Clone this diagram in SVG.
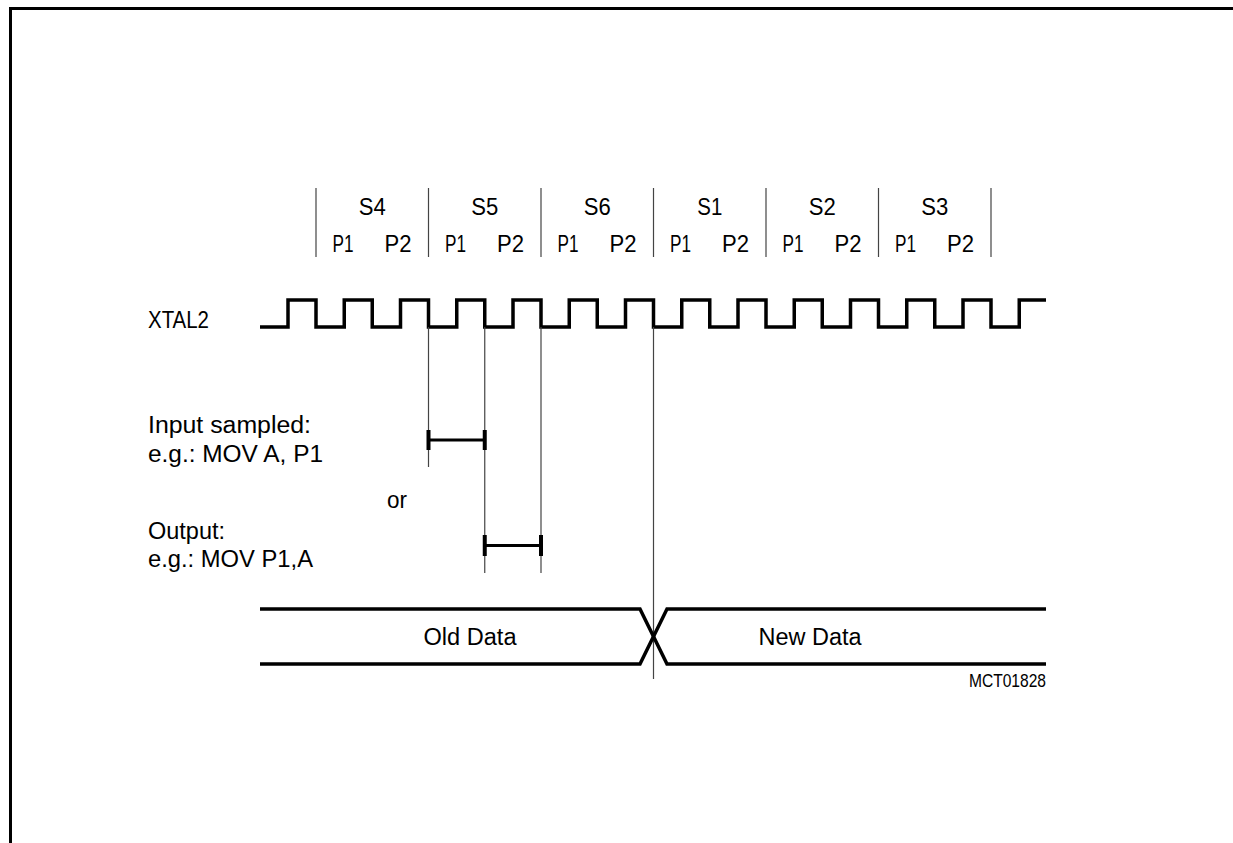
<svg xmlns="http://www.w3.org/2000/svg" width="1233" height="843" viewBox="0 0 1233 843">
<style>
text{font-family:"Liberation Sans",Arial,sans-serif;fill:#000;font-size:23.5px}
.small{font-size:18.5px}
.thin{stroke:#444;stroke-width:1.2;fill:none}
.thick{stroke:#000;stroke-width:3.5;fill:none;stroke-linejoin:miter}
.bar{stroke:#000;stroke-width:3;fill:none}
.tick{stroke:#000;stroke-width:4;fill:none}
</style>
<rect x="0" y="0" width="1233" height="843" fill="#fff"/>
<path d="M10.5,843 V8.5 H1233" fill="none" stroke="#000" stroke-width="3"/>

<g id="header">
  <g class="thin">
    <line x1="316" y1="188" x2="316" y2="257"/>
    <line x1="428.5" y1="188" x2="428.5" y2="257"/>
    <line x1="541" y1="188" x2="541" y2="257"/>
    <line x1="653.5" y1="188" x2="653.5" y2="257"/>
    <line x1="766" y1="188" x2="766" y2="257"/>
    <line x1="878.5" y1="188" x2="878.5" y2="257"/>
    <line x1="991" y1="188" x2="991" y2="257"/>
  </g>
  <g text-anchor="middle">
    <text x="372.25" y="215" textLength="27" lengthAdjust="spacingAndGlyphs">S4</text>
    <text x="484.75" y="215" textLength="27" lengthAdjust="spacingAndGlyphs">S5</text>
    <text x="597.25" y="215" textLength="27" lengthAdjust="spacingAndGlyphs">S6</text>
    <text x="709.75" y="215" textLength="25" lengthAdjust="spacingAndGlyphs">S1</text>
    <text x="822.25" y="215" textLength="27" lengthAdjust="spacingAndGlyphs">S2</text>
    <text x="934.75" y="215" textLength="27" lengthAdjust="spacingAndGlyphs">S3</text>

    <text x="343" y="252" textLength="21" lengthAdjust="spacingAndGlyphs">P1</text>
    <text x="398" y="252" textLength="27" lengthAdjust="spacingAndGlyphs">P2</text>
    <text x="455.5" y="252" textLength="21" lengthAdjust="spacingAndGlyphs">P1</text>
    <text x="510.5" y="252" textLength="27" lengthAdjust="spacingAndGlyphs">P2</text>
    <text x="568" y="252" textLength="21" lengthAdjust="spacingAndGlyphs">P1</text>
    <text x="623" y="252" textLength="27" lengthAdjust="spacingAndGlyphs">P2</text>
    <text x="680.5" y="252" textLength="21" lengthAdjust="spacingAndGlyphs">P1</text>
    <text x="735.5" y="252" textLength="27" lengthAdjust="spacingAndGlyphs">P2</text>
    <text x="793" y="252" textLength="21" lengthAdjust="spacingAndGlyphs">P1</text>
    <text x="848" y="252" textLength="27" lengthAdjust="spacingAndGlyphs">P2</text>
    <text x="905.5" y="252" textLength="21" lengthAdjust="spacingAndGlyphs">P1</text>
    <text x="960.5" y="252" textLength="27" lengthAdjust="spacingAndGlyphs">P2</text>
  </g>
</g>

<g id="xtal2">
  <text x="148" y="328" textLength="61" lengthAdjust="spacingAndGlyphs">XTAL2</text>
  <path class="thick" d="M260,327 H288 V300 H316 V327 H344.25 V300 H372.25 V327 H400.5 V300 H428.5 V327 H456.75 V300 H484.75 V327 H513 V300 H541 V327 H569.25 V300 H597.25 V327 H625.5 V300 H653.5 V327 H681.75 V300 H709.75 V327 H738 V300 H766 V327 H794.25 V300 H822.25 V327 H850.5 V300 H878.5 V327 H906.75 V300 H934.75 V327 H963 V300 H991 V327 H1019.25 V300 H1046"/>
</g>

<g id="connectors">
  <line class="thin" x1="428.5" y1="327" x2="428.5" y2="467"/>
  <line class="thin" x1="484.75" y1="327" x2="484.75" y2="573"/>
  <line class="thin" x1="541" y1="327" x2="541" y2="573"/>
  <line class="thin" x1="653.5" y1="327" x2="653.5" y2="679"/>
</g>

<g id="input-sampled">
  <text x="148" y="433" textLength="163" lengthAdjust="spacingAndGlyphs">Input sampled:</text>
  <text x="148" y="462" textLength="175" lengthAdjust="spacingAndGlyphs">e.g.: MOV A, P1</text>
  <line class="bar" x1="428.5" y1="440" x2="484.75" y2="440"/>
  <line class="tick" x1="428.5" y1="430" x2="428.5" y2="450"/>
  <line class="tick" x1="484.75" y1="430" x2="484.75" y2="450"/>
</g>

<g id="or-label">
  <text x="387" y="508" textLength="20" lengthAdjust="spacingAndGlyphs">or</text>
</g>

<g id="output">
  <text x="148" y="539" textLength="77" lengthAdjust="spacingAndGlyphs">Output:</text>
  <text x="148" y="567" textLength="165" lengthAdjust="spacingAndGlyphs">e.g.: MOV P1,A</text>
  <line class="bar" x1="484.75" y1="545.5" x2="541" y2="545.5"/>
  <line class="tick" x1="484.75" y1="535" x2="484.75" y2="556"/>
  <line class="tick" x1="541" y1="535" x2="541" y2="556"/>
</g>

<g id="data">
  <path class="thick" d="M260,609 H640 L667,664 H1046"/>
  <path class="thick" d="M260,664 H640 L667,609 H1046"/>
  <text x="470" y="645" text-anchor="middle" textLength="93" lengthAdjust="spacingAndGlyphs">Old Data</text>
  <text x="810" y="645" text-anchor="middle" textLength="103" lengthAdjust="spacingAndGlyphs">New Data</text>
</g>

<g id="ref-code">
  <text class="small" x="1046" y="687" text-anchor="end" textLength="77" lengthAdjust="spacingAndGlyphs">MCT01828</text>
</g>
</svg>
